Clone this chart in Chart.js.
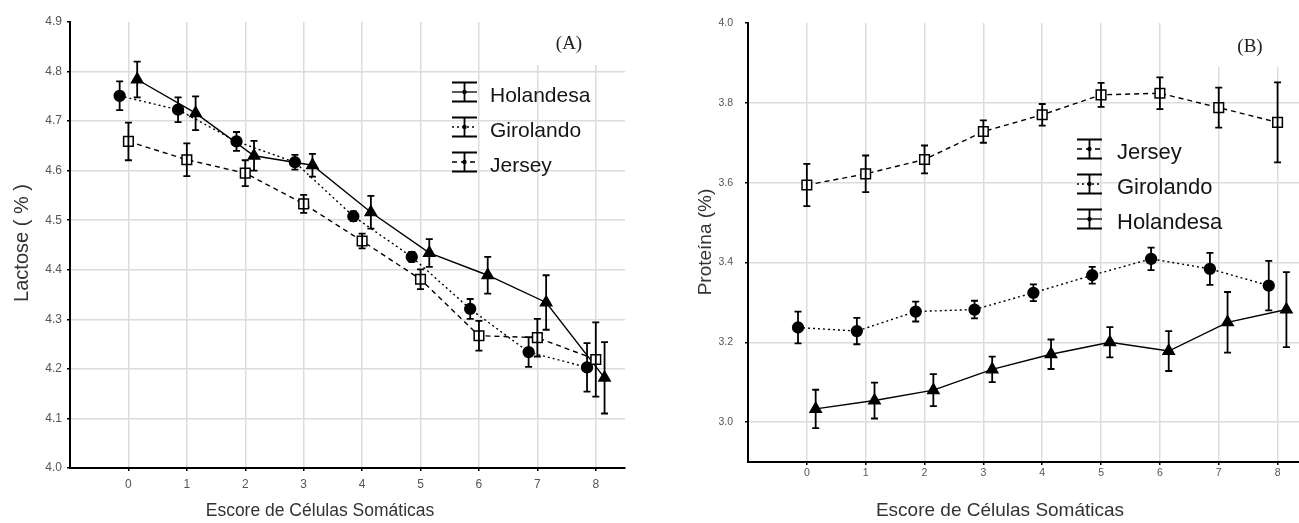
<!DOCTYPE html>
<html lang="pt">
<head>
<meta charset="utf-8">
<title>Lactose e Proteína por escore de células somáticas</title>
<script src="https://cdn.jsdelivr.net/npm/chart.js@4.4.1/dist/chart.umd.min.js"></script>
<style>
  html, body { margin: 0; padding: 0; background: #fff; overflow: hidden; width: 1299px; height: 523px; }
  canvas { position: absolute; top: 0; }
  #graficoA { left: 0; }
  #graficoB { left: 680px; }
</style>
</head>
<body>
<canvas id="graficoA" width="640" height="523"></canvas>
<canvas id="graficoB" width="640" height="523"></canvas>
<script>
var escores = [0, 1, 2, 3, 4, 5, 6, 7, 8];

// (A) Lactose (%) - media e erro padrao
var lactoseHolandesa   = [4.784, 4.716, 4.630, 4.611, 4.516, 4.434, 4.389, 4.334, 4.182];
var lactoseHolandesaEp = [0.036, 0.034, 0.030, 0.023, 0.033, 0.028, 0.037, 0.055, 0.072];
var lactoseGirolando   = [4.751, 4.723, 4.659, 4.617, 4.508, 4.426, 4.321, 4.234, 4.203];
var lactoseGirolandoEp = [0.029, 0.025, 0.019, 0.015, 0.010, 0.010, 0.020, 0.030, 0.049];
var lactoseJersey      = [4.659, 4.622, 4.595, 4.533, 4.458, 4.381, 4.267, 4.263, 4.219];
var lactoseJerseyEp    = [0.038, 0.033, 0.026, 0.018, 0.015, 0.020, 0.030, 0.038, 0.075];

// (B) Proteina (%) - media e erro padrao
var proteinaJersey      = [3.594, 3.622, 3.658, 3.728, 3.770, 3.820, 3.824, 3.788, 3.751];
var proteinaJerseyEp    = [0.053, 0.046, 0.035, 0.028, 0.027, 0.030, 0.040, 0.050, 0.100];
var proteinaGirolando   = [3.237, 3.228, 3.277, 3.282, 3.324, 3.368, 3.409, 3.384, 3.342];
var proteinaGirolandoEp = [0.040, 0.033, 0.025, 0.022, 0.021, 0.021, 0.028, 0.040, 0.062];
var proteinaHolandesa   = [3.033, 3.054, 3.080, 3.132, 3.170, 3.200, 3.178, 3.250, 3.282];
var proteinaHolandesaEp = [0.048, 0.045, 0.040, 0.032, 0.037, 0.038, 0.050, 0.076, 0.094];

var ticksLactose  = [4.0, 4.1, 4.2, 4.3, 4.4, 4.5, 4.6, 4.7, 4.8, 4.9];
var ticksProteina = [3.0, 3.2, 3.4, 3.6, 3.8, 4.0];

var fonte = "'Liberation Sans', Arial, sans-serif";
var corGrade = '#dcdcdc';

// pequeno deslocamento horizontal de cada raca para as barras nao se sobreporem
var deslocamento = { Holandesa: 0.15, Girolando: -0.15, Jersey: 0 };
var estilos = {
    Holandesa: { dash: [],     ponto: 'triangle', fundo: '#000', raio: 6.5 },
    Girolando: { dash: [2, 3], ponto: 'circle',   fundo: '#000', raio: 5.4 },
    Jersey:    { dash: [5, 4], ponto: 'rect',     fundo: '#fff', raio: 6.8 }
};

function montarSerie(raca, valores, erros) {
    var est = estilos[raca];
    return {
        label: raca,
        data: escores.map(function(e, i) { return { x: e + deslocamento[raca], y: valores[i] }; }),
        erros: erros,
        borderColor: '#000',
        borderWidth: 1.4,
        borderDash: est.dash,
        pointStyle: est.ponto,
        pointRadius: est.raio,
        pointBackgroundColor: est.fundo,
        pointBorderColor: '#000',
        pointBorderWidth: 1.5,
        fill: false,
        tension: 0
    };
}

var anotacoes = {
    id: 'anotacoes',
    beforeDatasetsDraw: function(chart, args, o) {
        // fundo branco atras do rotulo (A)/(B), corta as linhas da grade
        var ctx = chart.ctx;
        ctx.save();
        ctx.fillStyle = '#fff';
        ctx.fillRect(o.mascara[0], o.mascara[1], o.mascara[2], o.mascara[3]);
        ctx.restore();
    },
    afterDatasetsDraw: function(chart) {
        var ctx = chart.ctx, xs = chart.scales.x, ys = chart.scales.y;
        ctx.save();
        ctx.strokeStyle = '#000';
        ctx.lineWidth = 1.8;
        ctx.setLineDash([]);
        chart.data.datasets.forEach(function(ds) {
            ds.data.forEach(function(p, i) {
                var x = xs.getPixelForValue(p.x);
                var yTop = ys.getPixelForValue(p.y + ds.erros[i]);
                var yBot = ys.getPixelForValue(p.y - ds.erros[i]);
                ctx.beginPath();
                ctx.moveTo(x, yTop); ctx.lineTo(x, yBot);
                ctx.moveTo(x - 3.5, yTop); ctx.lineTo(x + 3.5, yTop);
                ctx.moveTo(x - 3.5, yBot); ctx.lineTo(x + 3.5, yBot);
                ctx.stroke();
            });
        });
        ctx.restore();
    },
    afterDraw: function(chart, args, o) {
        var ctx = chart.ctx;
        ctx.save();
        // titulos dos eixos
        ctx.fillStyle = '#333';
        ctx.textAlign = 'center';
        ctx.textBaseline = 'middle';
        ctx.font = o.tamTituloX + 'px ' + fonte;
        ctx.fillText(o.tituloX, o.posTituloX[0], o.posTituloX[1]);
        ctx.font = o.tamTituloY + 'px ' + fonte;
        ctx.save();
        ctx.translate(o.posTituloY[0], o.posTituloY[1]);
        ctx.rotate(-Math.PI / 2);
        ctx.fillText(o.tituloY, 0, 0);
        ctx.restore();

        // rotulo (A) / (B)
        ctx.fillStyle = '#222';
        ctx.font = '19px "Liberation Serif", "Times New Roman", serif';
        ctx.fillText(o.rotulo, o.posRotulo[0], o.posRotulo[1]);

        // legenda com o simbolo de barra de erro
        var L = o.legenda;
        L.ordem.forEach(function(raca, k) {
            var cy = L.y + k * L.dy;
            var x0 = L.x, w = 25, h = 9.5;
            ctx.strokeStyle = '#000';
            ctx.lineWidth = 1.8;
            ctx.setLineDash([]);
            ctx.beginPath();
            ctx.moveTo(x0, cy - h); ctx.lineTo(x0 + w, cy - h);
            ctx.moveTo(x0, cy + h); ctx.lineTo(x0 + w, cy + h);
            ctx.moveTo(x0 + w / 2, cy - h); ctx.lineTo(x0 + w / 2, cy + h);
            ctx.stroke();
            ctx.lineWidth = 1.3;
            ctx.setLineDash(estilos[raca].dash);
            ctx.beginPath();
            ctx.moveTo(x0, cy); ctx.lineTo(x0 + w, cy);
            ctx.stroke();
            ctx.setLineDash([]);
            ctx.fillStyle = '#000';
            ctx.beginPath();
            ctx.arc(x0 + w / 2, cy, 2.2, 0, Math.PI * 2);
            ctx.fill();
            ctx.fillStyle = '#151515';
            ctx.textAlign = 'left';
            ctx.font = L.tam + 'px ' + fonte;
            ctx.fillText(raca, L.texto, cy + 4);
        });
        ctx.restore();
    }
};

function escalas(cfg) {
    var yMax = cfg.yTicks[cfg.yTicks.length - 1];
    return {
        x: {
            type: 'linear', min: -1, max: 8.5,
            afterBuildTicks: function(s) { s.ticks = escores.map(function(v) { return { value: v }; }); },
            afterFit: function(s) { s.height = cfg.altX; },
            grid: { color: corGrade, lineWidth: 1.5, tickColor: '#000', tickLength: 3 },
            border: { color: '#000', width: 2 },
            ticks: {
                font: { family: fonte, size: cfg.tamTick }, color: '#555',
                padding: cfg.padX, maxRotation: 0,
                callback: function(v) { return String(v); }
            }
        },
        y: {
            type: 'linear', min: cfg.yMin, max: yMax,
            afterBuildTicks: function(s) { s.ticks = cfg.yTicks.map(function(v) { return { value: v }; }); },
            afterFit: function(s) { s.width = cfg.largY; },
            grid: {
                color: function(c) { return c.tick && Math.abs(c.tick.value - yMax) < 1e-9 ? 'rgba(0,0,0,0)' : corGrade; },
                lineWidth: 1.5, tickColor: '#000', tickLength: 3
            },
            border: { color: '#000', width: 2 },
            ticks: {
                font: { family: fonte, size: cfg.tamTick }, color: '#555',
                padding: cfg.padY,
                callback: function(v) { return Number(v).toFixed(1); }
            }
        }
    };
}

new Chart(document.getElementById('graficoA').getContext('2d'), {
    type: 'line',
    data: {
        datasets: [
            montarSerie('Jersey', lactoseJersey, lactoseJerseyEp),
            montarSerie('Girolando', lactoseGirolando, lactoseGirolandoEp),
            montarSerie('Holandesa', lactoseHolandesa, lactoseHolandesaEp)
        ]
    },
    options: {
        responsive: false,
        animation: false,
        layout: { padding: { top: 22, right: 15, left: 0, bottom: 0 } },
        scales: escalas({ yMin: 4.0, yTicks: ticksLactose, altX: 55, largY: 70, tamTick: 12, padX: 6, padY: 5 }),
        plugins: {
            legend: { display: false },
            tooltip: { enabled: false },
            anotacoes: {
                tituloX: 'Escore de Células Somáticas', posTituloX: [320, 511], tamTituloX: 17.5,
                tituloY: 'Lactose ( % )', posTituloY: [22, 243], tamTituloY: 20,
                rotulo: '(A)', posRotulo: [569, 44],
                mascara: [510, 18, 130, 47],
                legenda: { ordem: ['Holandesa', 'Girolando', 'Jersey'], x: 452, texto: 490, y: 92, dy: 35, tam: 21 }
            }
        }
    },
    plugins: [anotacoes]
});

new Chart(document.getElementById('graficoB').getContext('2d'), {
    type: 'line',
    data: {
        datasets: [
            montarSerie('Holandesa', proteinaHolandesa, proteinaHolandesaEp),
            montarSerie('Girolando', proteinaGirolando, proteinaGirolandoEp),
            montarSerie('Jersey', proteinaJersey, proteinaJerseyEp)
        ]
    },
    options: {
        responsive: false,
        animation: false,
        layout: { padding: { top: 23, right: 13, left: 0, bottom: 0 } },
        scales: escalas({ yMin: 2.9, yTicks: ticksProteina, altX: 61, largY: 68, tamTick: 10.5, padX: 2, padY: 12 }),
        plugins: {
            legend: { display: false },
            tooltip: { enabled: false },
            anotacoes: {
                tituloX: 'Escore de Células Somáticas', posTituloX: [1000 - 680, 511], tamTituloX: 19,
                tituloY: 'Proteína (%)', posTituloY: [26, 242], tamTituloY: 19,
                rotulo: '(B)', posRotulo: [570, 47],
                mascara: [510, 18, 130, 49],
                legenda: { ordem: ['Jersey', 'Girolando', 'Holandesa'], x: 397, texto: 437, y: 149, dy: 35, tam: 22 }
            }
        }
    },
    plugins: [anotacoes]
});
</script>
</body>
</html>
